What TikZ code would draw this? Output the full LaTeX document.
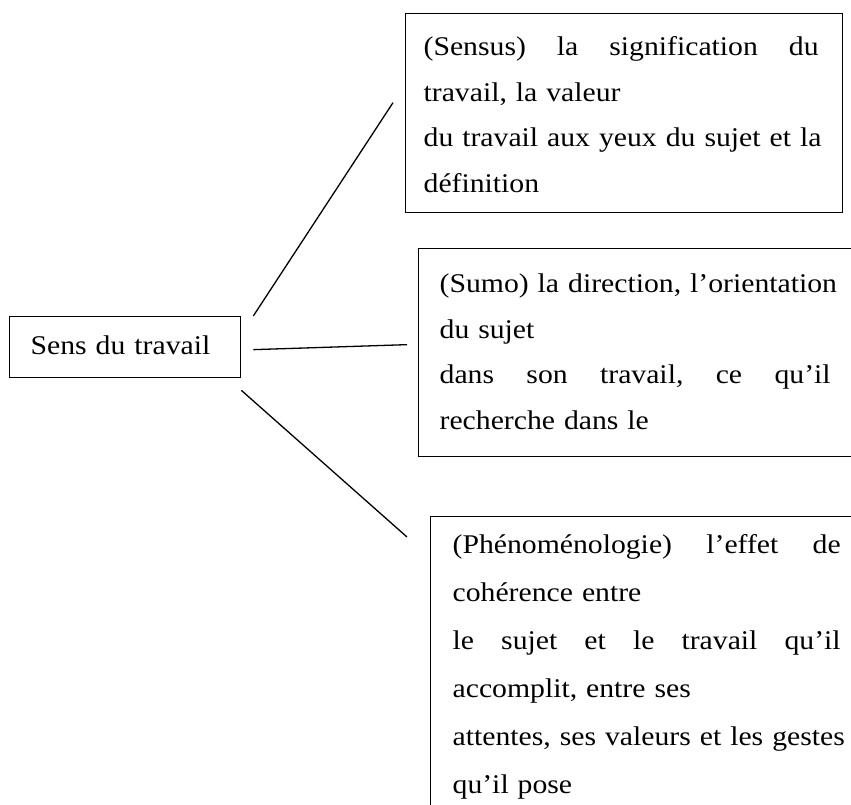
\documentclass[tikz,border=0pt]{standalone}
\usepackage{fontspec}
\setmainfont{Liberation Serif}[FakeStretch=1.1]

\begin{document}
\begin{tikzpicture}[x=1pt, y=-1pt,
    boite/.style={draw, line width=1.3pt, anchor=north west, align=left, inner ysep=12pt,
      font=\fontsize{27}{45.5}\selectfont},
    lien/.style={line width=1.3pt}]
    \useasboundingbox (0,0) rectangle (851,805);
    \clip (0,0) rectangle (851,805);
    % Boîte centrale
    \node[boite, inner xsep=21pt, text width=189pt, text height=26pt, text depth=11pt] (sens) at (9,316) {Sens du travail};
    % Sensus
    \node[boite, inner xsep=18pt, text width=401pt, text height=30pt, text depth=145pt] (sensus) at (405,13)
        {\leavevmode\hbox to 395pt{(Sensus)\hfill la\hfill signification\hfill du}\\
         travail, la valeur\\
         du travail aux yeux du sujet et la\\
         définition};
    % Sumo
    \node[boite, inner xsep=21pt, text width=405pt, text height=32pt, text depth=152pt] (sumo) at (418,248)
        {(Sumo) la direction, l’orientation\\
         du sujet\\
         \leavevmode\hbox to 391pt{dans\hfill son\hfill travail,\hfill ce\hfill qu’il}\\
         recherche dans le};
    % Phénoménologie
    \node[boite, inner xsep=22pt, text width=405pt, text height=25pt, text depth=320pt,
        font=\fontsize{27}{48}\selectfont] (pheno) at (430,516)
        {\leavevmode\hbox to 388pt{(Phénoménologie)\hfill l’effet\hfill de}\\
         cohérence entre\\
         \leavevmode\hbox to 388pt{le\hfill sujet\hfill et\hfill le\hfill travail\hfill qu’il}\\
         accomplit, entre ses\\
         attentes, ses valeurs et les gestes\\
         qu’il pose};
    % Liens
    \draw[lien] ([xshift=12pt]sens.north east) -- ([xshift=-12pt, yshift=10.5pt]sensus.west);
    \draw[lien] ([xshift=12pt, yshift=-2.5pt]sens.east) -- ([xshift=-11pt, yshift=8pt]sumo.west);
    \draw[lien] ([yshift=-12pt]sens.south east) -- ([xshift=-23pt, yshift=-21pt]pheno.north west);
\end{tikzpicture}
\end{document}
